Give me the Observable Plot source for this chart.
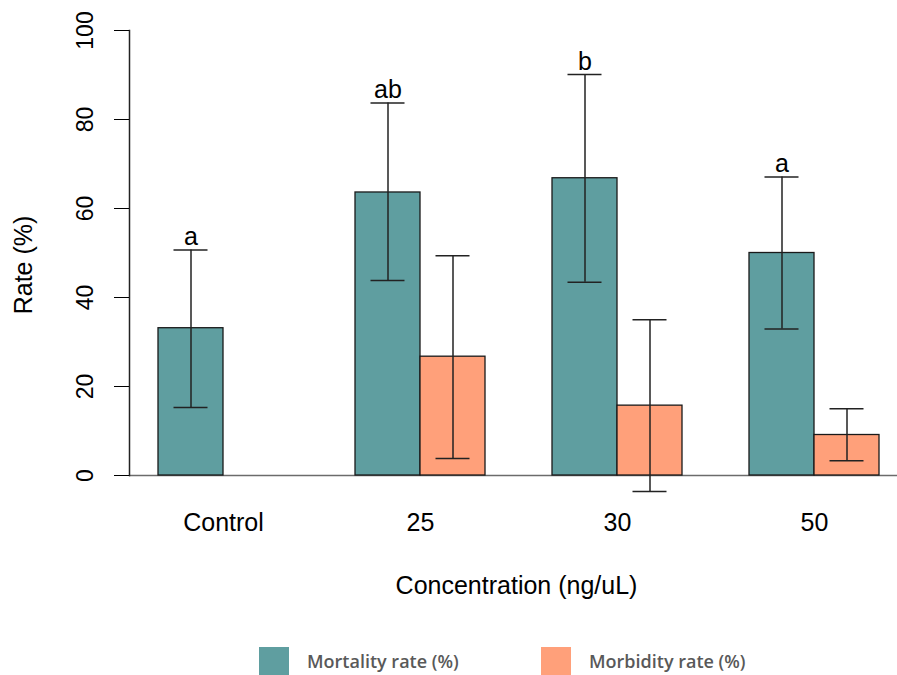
<!DOCTYPE html>
<html>
<head>
<meta charset="utf-8">
<script src="https://cdn.jsdelivr.net/npm/d3@7"></script>
<script src="https://cdn.jsdelivr.net/npm/@observablehq/plot@0.6"></script>
<style>
  html, body { margin: 0; padding: 0; background: #fff; }
  #chart { width: 897px; }
  .legend { position: relative; height: 65px; font-family: "Open Sans", sans-serif; font-weight: 600; font-size: 18px; color: #595959; }
  .legend .item { position: absolute; top: 37px; display: flex; align-items: center; }
  .legend .sw { width: 30px; height: 28px; margin-right: 18px; }
</style>
</head>
<body>
<div id="chart"></div>
<script>
const groups = ["Control", "25", "30", "50"];
const mortality = [33.1, 63.6, 66.8, 50.0];
const mortalityLow = [15.3, 43.8, 43.4, 32.9];
const mortalityHigh = [50.7, 83.7, 90.1, 67.1];
const morbidity = [null, 26.7, 15.7, 9.1];
const morbidityLow = [null, 3.8, -3.6, 3.3];
const morbidityHigh = [null, 49.4, 35.0, 15.0];
const letters = ["a", "ab", "b", "a"];
const yTicks = [0, 20, 40, 60, 80, 100];
const seriesNames = ["Mortality rate (%)", "Morbidity rate (%)"];
const seriesColors = ["#5F9EA0", "#FFA07A"];

const mort = groups.map((g, i) => ({group: g, value: mortality[i], lo: mortalityLow[i], hi: mortalityHigh[i], letter: letters[i]}));
const morb = groups.map((g, i) => ({group: g, value: morbidity[i], lo: morbidityLow[i], hi: morbidityHigh[i]})).filter(d => d.value != null);

const half = 65;   // half of the band: each bar occupies one half
const capInset = 48;
const font = "'Liberation Sans', Arial, sans-serif";

const chart = Plot.plot({
  width: 897,
  height: 610,
  marginLeft: 129,
  marginRight: 0,
  marginTop: 30,
  marginBottom: 135,
  style: {fontFamily: font, fontSize: "25px", color: "#000", background: "#fff"},
  x: {domain: groups, paddingInner: 0.34, paddingOuter: 0.119, align: 0.617, label: null},
  y: {domain: [0, 100], label: null},
  marks: [
    Plot.ruleY([0], {stroke: "#6b6b6b", strokeWidth: 1.5}),
    Plot.barY(mort, {x: "group", y: "value", insetRight: half, fill: seriesColors[0], stroke: "#1a1a1a", strokeWidth: 1.3}),
    Plot.barY(morb, {x: "group", y: "value", insetLeft: half, fill: seriesColors[1], stroke: "#1a1a1a", strokeWidth: 1.3}),
    // error bars: mortality
    Plot.ruleX(mort, {x: "group", y1: "lo", y2: "hi", dx: -half / 2, stroke: "#222", strokeWidth: 1.5}),
    Plot.tickY(mort, {x: "group", y: "lo", dx: -half / 2, insetLeft: capInset, insetRight: capInset, stroke: "#222", strokeWidth: 1.5}),
    Plot.tickY(mort, {x: "group", y: "hi", dx: -half / 2, insetLeft: capInset, insetRight: capInset, stroke: "#222", strokeWidth: 1.5}),
    // error bars: morbidity
    Plot.ruleX(morb, {x: "group", y1: "lo", y2: "hi", dx: half / 2, stroke: "#222", strokeWidth: 1.5}),
    Plot.tickY(morb, {x: "group", y: "lo", dx: half / 2, insetLeft: capInset, insetRight: capInset, stroke: "#222", strokeWidth: 1.5}),
    Plot.tickY(morb, {x: "group", y: "hi", dx: half / 2, insetLeft: capInset, insetRight: capInset, stroke: "#222", strokeWidth: 1.5}),
    // significance letters
    Plot.text(mort, {x: "group", y: "hi", text: "letter", dx: -half / 2, dy: -5, lineAnchor: "bottom", fontSize: 25, fill: "#000"}),
    // axes
    Plot.frame({anchor: "left", stroke: "#222", strokeWidth: 1.5}),
    Plot.axisY({ticks: yTicks, tickSize: 15, tickPadding: 22, tickRotate: -90, fontSize: 23, label: null}),
    Plot.axisX({tickSize: 0, tickPadding: 38, fontSize: 25, label: null}),
    Plot.text(["Concentration (ng/uL)"], {frameAnchor: "bottom", dx: 3, dy: 110, textAnchor: "middle", lineAnchor: "middle", fontSize: 25, fill: "#000"}),
    Plot.text(["Rate (%)"], {frameAnchor: "left", dx: -106, dy: 12, rotate: -90, textAnchor: "middle", lineAnchor: "middle", fontSize: 25, fill: "#000"})
  ]
});
document.getElementById("chart").appendChild(chart);

const legend = document.createElement("div");
legend.className = "legend";
const lefts = [259, 541];
seriesNames.forEach((name, i) => {
  const item = document.createElement("div");
  item.className = "item";
  item.style.left = lefts[i] + "px";
  const sw = document.createElement("div");
  sw.className = "sw";
  sw.style.background = seriesColors[i];
  const label = document.createElement("span");
  label.textContent = name;
  item.appendChild(sw);
  item.appendChild(label);
  legend.appendChild(item);
});
document.getElementById("chart").appendChild(legend);
</script>
</body>
</html>
